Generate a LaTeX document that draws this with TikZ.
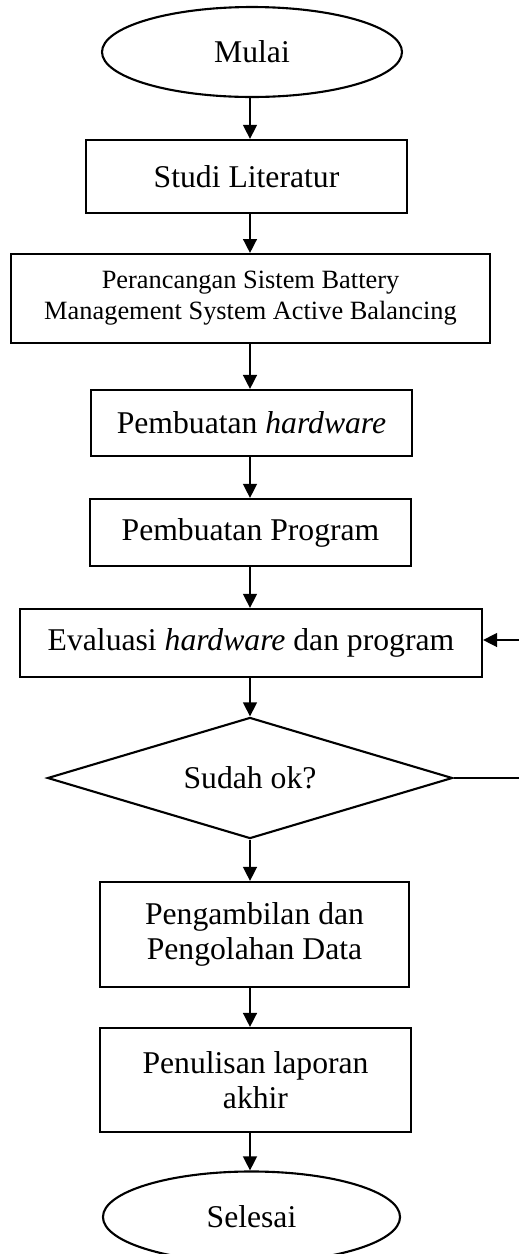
\documentclass[tikz,border=0pt]{standalone}
\usepackage{fontspec}
\setmainfont{Liberation Serif}
\usetikzlibrary{shapes.geometric,arrows.meta}
\begin{document}
\begin{tikzpicture}[x=0.379pt,y=-0.379pt,
  base/.style={draw=black,line width=0.8pt,inner sep=0pt,font=\fontsize{12}{13.5}\selectfont,align=center},
  procbox/.style={base,rectangle},
  term/.style={base,ellipse},
  decide/.style={base,diamond,aspect=3.34},
  flow/.style={line width=0.8pt,-{Triangle[length=5.3pt,width=5.2pt]}}]
\useasboundingbox (0,0) rectangle (518,1254);
\node[term,minimum width=113.7pt,minimum height=34.1pt] (mulai) at (252,52) {Mulai};
\node[procbox,minimum width=121.7pt,minimum height=27.7pt] (studi) at (246.5,176.5) {Studi Literatur};
\node[procbox,minimum width=181.5pt,minimum height=33.7pt,font=\fontsize{10}{11.7}\selectfont] (ranc) at (250.5,298.5) {Perancangan Sistem Battery\\Management System Active Balancing};
\node[procbox,minimum width=121.7pt,minimum height=25pt] (hw) at (251.5,423) {Pembuatan \textit{hardware}};
\node[procbox,minimum width=121.7pt,minimum height=25.4pt] (prog) at (250.5,532.5) {Pembuatan Program};
\node[procbox,minimum width=175.1pt,minimum height=25.8pt] (eval) at (251,643) {Evaluasi \textit{hardware} dan program};
\node[decide,minimum width=153.5pt,minimum height=45.9pt] (ok) at (250,778) {Sudah ok?};
\node[procbox,minimum width=117.1pt,minimum height=39.8pt] (ambil) at (254.5,934.5) {Pengambilan dan\\Pengolahan Data};
\node[procbox,minimum width=117.9pt,minimum height=39.4pt] (tulis) at (255.5,1080) {Penulisan laporan\\akhir};
\node[term,minimum width=112.6pt,minimum height=34.5pt] (selesai) at (251.5,1217) {Selesai};
\coordinate (x0) at (250,0);
\draw[flow] (mulai.south -| x0) -- (studi.north -| x0);
\draw[flow] (studi.south -| x0) -- (ranc.north -| x0);
\draw[flow] (ranc.south -| x0) -- (hw.north -| x0);
\draw[flow] (hw.south -| x0) -- (prog.north -| x0);
\draw[flow] (prog.south -| x0) -- (eval.north -| x0);
\draw[flow] (eval.south -| x0) -- (ok.north);
\draw[flow] (ok.south) -- (ambil.north -| x0);
\draw[flow] (ambil.south -| x0) -- (tulis.north -| x0);
\draw[flow] (tulis.south -| x0) -- (selesai.north -| x0);
\coordinate (r1) at (530,778);
\coordinate (r2) at (530,640);
\draw[flow] (ok.east) -- (r1) -- (r2) -- (r2 -| eval.east);
\end{tikzpicture}
\end{document}
